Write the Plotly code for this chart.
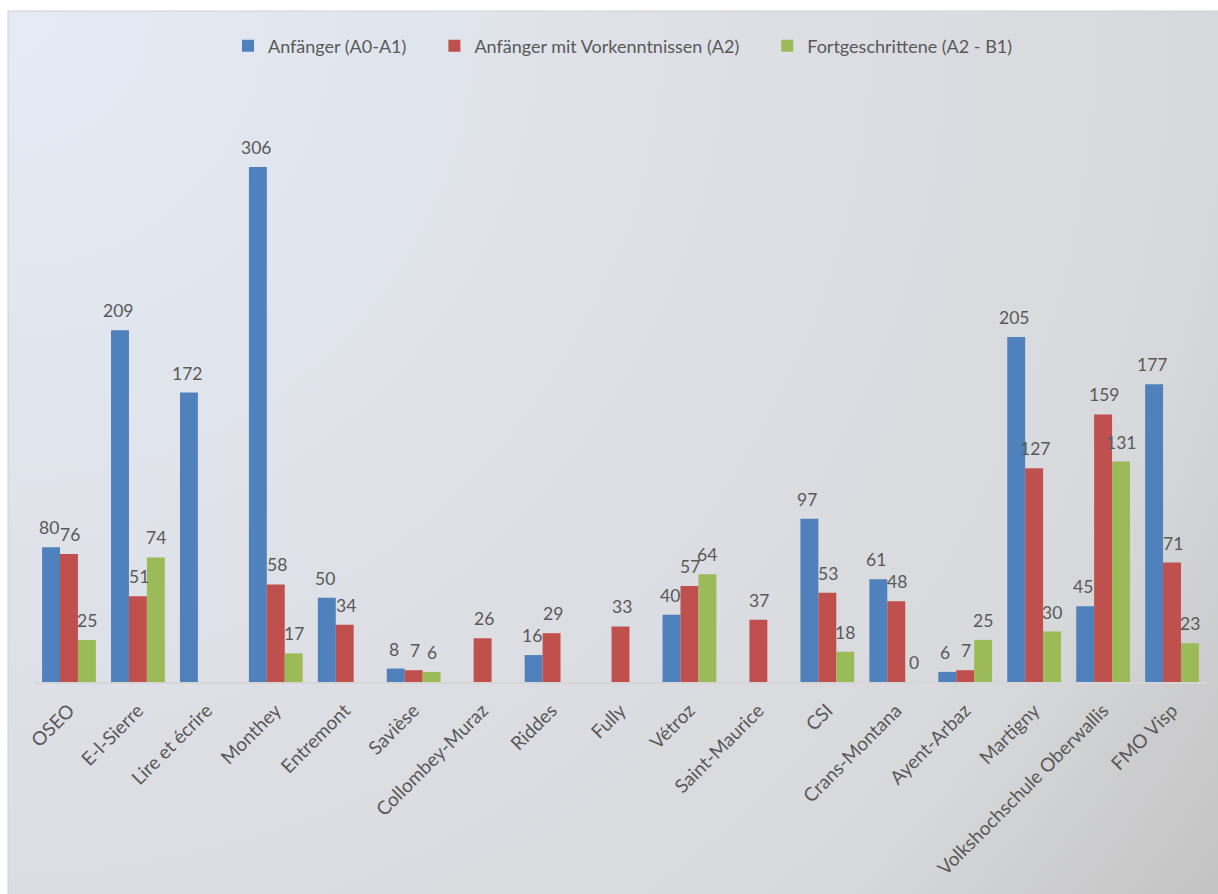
import base64
import plotly.graph_objects as go

categories = ["OSEO", "E-l-Sierre", "Lire et écrire", "Monthey", "Entremont", "Savièse",
              "Collombey-Muraz", "Riddes", "Fully", "Vétroz", "Saint-Maurice", "CSI",
              "Crans-Montana", "Ayent-Arbaz", "Martigny", "Volkshochschule Oberwallis", "FMO Visp"]
series_names = ["Anfänger (A0-A1)", "Anfänger mit Vorkenntnissen (A2)", "Fortgeschrittene (A2 - B1)"]
a0_a1 = [80, 209, 172, 306, 50, 8, None, 16, None, 40, None, 97, 61, 6, 205, 45, 177]
a2 = [76, 51, None, 58, 34, 7, 26, 29, 33, 57, 37, 53, 48, 7, 127, 159, 71]
a2_b1 = [25, 74, None, 17, None, 6, None, None, None, 64, None, 18, 0, 25, 30, 131, 23]

colors = ["#4F81BD", "#C0504D", "#9BBB59"]
series = [a0_a1, a2, a2_b1]
FONT = "Lato, 'Open Sans', sans-serif"
TXT = "#595959"

W, H = 1218, 894
x_idx = list(range(len(categories)))

fig = go.Figure()
for j, (name, vals, col) in enumerate(zip(series_names, series, colors)):
    label = name + ("\u00a0" * 5 if j < len(series_names) - 1 else "")
    fig.add_trace(go.Bar(x=x_idx, y=vals, name=label, marker=dict(color=col, line=dict(width=0)),
                         hoverinfo="x+y"))

bargap = 0.22
bw = (1 - bargap) / 3
label_xshift = [-2, 1, 0]
annotations = []
for k, vals in enumerate(series):
    for i, v in enumerate(vals):
        if v is None:
            continue
        annotations.append(dict(x=i + (k - 1) * bw, y=v, xref="x", yref="y", text=str(v),
                                showarrow=False, yanchor="bottom", xanchor="center", yshift=8,
                                xshift=label_xshift[k], borderpad=0,
                                font=dict(family=FONT, size=17.5, color=TXT)))

svg = ('<svg xmlns="http://www.w3.org/2000/svg" width="1210" height="883" viewBox="0 0 1210 883" '
       'preserveAspectRatio="none"><defs><radialGradient id="g" gradientUnits="userSpaceOnUse" '
       'cx="0" cy="0" r="1500" fx="0" fy="0">'
       '<stop offset="0" stop-color="rgb(229,235,245)"/>'
       '<stop offset="0.5" stop-color="rgb(221,223,229)"/>'
       '<stop offset="0.8" stop-color="rgb(216,217,220)"/>'
       '<stop offset="1" stop-color="rgb(195,195,195)"/></radialGradient></defs>'
       '<rect x="0" y="0" width="1210" height="883" fill="url(#g)"/></svg>')
src = "data:image/svg+xml;base64," + base64.b64encode(svg.encode()).decode()

x0p = 8 / W
y1p = 1 - 11 / H

fig.update_layout(
    width=W, height=H,
    margin=dict(l=0, r=0, t=0, b=0, autoexpand=False),
    paper_bgcolor="white",
    plot_bgcolor="rgba(0,0,0,0)",
    barmode="group", bargap=bargap, bargroupgap=0,
    font=dict(family=FONT, size=16, color=TXT),
    images=[dict(source=src, xref="paper", yref="paper", x=x0p, y=y1p,
                 sizex=1 - x0p, sizey=y1p, xanchor="left", yanchor="top",
                 sizing="stretch", layer="below")],
    shapes=[dict(type="rect", xref="paper", yref="paper", x0=x0p, x1=1.2, y0=-0.2, y1=y1p,
                 line=dict(color="#D0D0D0", width=1), layer="below")],
    legend=dict(orientation="h", x=623 / W, xanchor="center", y=1 - 46 / H, yanchor="middle",
                font=dict(family=FONT, size=18, color=TXT), bgcolor="rgba(0,0,0,0)",
                itemwidth=30, traceorder="normal"),
    xaxis=dict(domain=[34.5 / W, 1206.5 / W], range=[-0.5, len(categories) - 0.5],
               automargin=False,
               tickmode="array", tickvals=x_idx, ticktext=categories, tickangle=-45,
               ticklabelstandoff=8,
               showline=True, linecolor="#D6D6D6", linewidth=2, showgrid=False, zeroline=False,
               ticks="", tickfont=dict(family=FONT, size=19, color=TXT)),
    yaxis=dict(domain=[(H - 682) / H, (H - 93) / H], range=[0, 350], visible=False,
               automargin=False, showgrid=False, zeroline=False),
    annotations=annotations,
    showlegend=True,
)

fig.write_html("out.html")
